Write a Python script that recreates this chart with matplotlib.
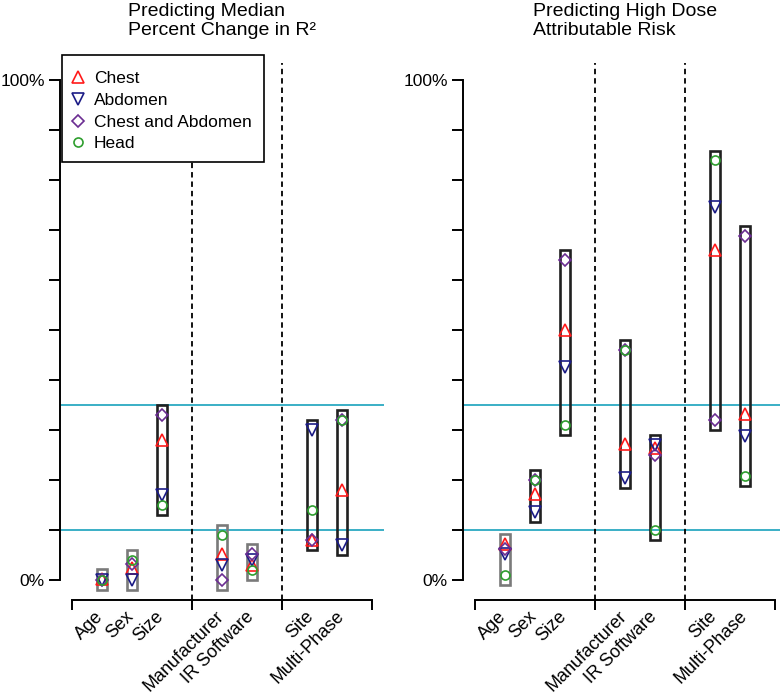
import matplotlib
matplotlib.use("Agg")
from matplotlib import pyplot as plt
from matplotlib.patches import Rectangle
from matplotlib.lines import Line2D

plt.rcParams['font.family'] = ['Liberation Sans', 'DejaVu Sans']

# predictors and their slot on the x axis
categories = ["Age", "Sex", "Size", "Manufacturer", "IR Software", "Site", "Multi-Phase"]
xpos = [1, 2, 3, 5, 6, 8, 9]
dividers = [4, 7]
ref_lines = [0.10, 0.35]

# left panel: median percent change in R^2
r2_chest = [0.003, 0.024, 0.28, 0.052, 0.03, 0.08, 0.18]
r2_abdomen = [0.0, 0.0, 0.17, 0.03, 0.04, 0.30, 0.07]
r2_chest_abd = [0.0, 0.033, 0.33, 0.0, 0.052, 0.08, 0.32]
r2_head = [0.0, 0.04, 0.15, 0.09, 0.02, 0.14, 0.32]
r2_gray = [True, True, False, True, True, False, False]

# right panel: high dose attributable risk
ar_chest = [0.072, 0.173, 0.50, 0.272, 0.264, 0.66, 0.332]
ar_abdomen = [0.052, 0.137, 0.427, 0.205, 0.27, 0.746, 0.288]
ar_chest_abd = [0.062, 0.20, 0.64, 0.46, 0.25, 0.32, 0.688]
ar_head = [0.01, 0.20, 0.31, 0.46, 0.10, 0.839, 0.209]
ar_gray = [True, False, False, False, False, False, False]

series_names = ["Chest", "Abdomen", "Chest and Abdomen", "Head"]
markers = ['^', 'v', 'D', 'o']
msizes = [8.5, 8.5, 6.2, 6.5]
colors = ['#FF1A1A', '#1C1C86', '#6B2D92', '#2E9E2E']
cyan = '#3AAFC6'

W, H = 780, 700
fig = plt.figure(figsize=(W / 100, H / 100), dpi=100)


def draw_panel(left_px, series, gray, title):
    ax = fig.add_axes([left_px / W, 100 / H, 324 / W, 540 / H])
    ax.set_xlim(-0.4, 10.4)
    ax.set_ylim(-0.04, 1.04)
    ax.patch.set_visible(False)
    for s in ['top', 'right']:
        ax.spines[s].set_visible(False)
    for s in ['left', 'bottom']:
        ax.spines[s].set_linewidth(1.4)
    ax.spines['left'].set_bounds(0, 1)
    ax.spines['bottom'].set_bounds(0, 10)
    ax.set_yticks([i / 10 for i in range(11)])
    ax.set_yticklabels(["0%"] + [""] * 9 + ["100%"])
    ax.set_xticks([0] + dividers + [10])
    ax.set_xticklabels([])
    ax.tick_params(axis='y', length=8, width=1.4, pad=3, labelsize=12.5)
    ax.tick_params(axis='x', length=7.5, width=1.4)

    for y in ref_lines:
        ax.axhline(y, color=cyan, lw=1.4, zorder=1)
    for x in dividers:
        ax.plot([x, x], [-0.04, 1.035], color='black', lw=1.3,
                dashes=(3, 2.2), zorder=1, clip_on=False)

    for i, x in enumerate(xpos):
        vals = [s[i] for s in series]
        lo, hi = min(vals) - 0.02, max(vals) + 0.02
        ec = '#7a7a7a' if gray[i] else '#202020'
        ax.add_patch(Rectangle((x - 0.18, lo), 0.36, hi - lo, fill=False,
                               ec=ec, lw=1.9, zorder=2))

    for s, m, ms, c in zip(series, markers, msizes, colors):
        ax.plot(xpos, s, ls='none', marker=m, ms=ms, mfc='none', mec=c,
                mew=1.2, zorder=3, clip_on=False)

    for x, lab in zip(xpos, categories):
        ax.text(x - 0.03, -0.068, lab, rotation=45, rotation_mode='anchor',
                ha='right', va='center', fontsize=13, clip_on=False)

    cx = (left_px + 162) / W
    fig.text(cx, 1 - 21 / H, title, ha='center', va='center',
             multialignment='left', fontsize=14, linespacing=1.15)
    return ax


ax1 = draw_panel(60, [r2_chest, r2_abdomen, r2_chest_abd, r2_head], r2_gray,
                 "Predicting Median\nPercent Change in R\u00b2")
ax2 = draw_panel(463, [ar_chest, ar_abdomen, ar_chest_abd, ar_head], ar_gray,
                 "Predicting High Dose\nAttributable Risk")

# legend box: white frame that hides the first divider
ax1.add_patch(Rectangle((62 / W, 1 - 162 / H), 202 / W, 107 / H,
                        transform=fig.transFigure, fc='white', ec='black',
                        lw=1.2, zorder=4, clip_on=False))
handles = [Line2D([], [], ls='none', marker=m, ms=ms, mfc='none', mec=c, mew=1.2)
           for m, ms, c in zip(markers, msizes, colors)]
leg = ax1.legend(handles, series_names, loc='upper left',
                 bbox_to_anchor=(69 / W, 1 - 71 / H), bbox_transform=fig.transFigure,
                 borderaxespad=0, borderpad=0, fontsize=12.5, frameon=False,
                 handlelength=1.0, handletextpad=0.44, labelspacing=0.38,
                 numpoints=1)
leg.set_zorder(5)

fig.savefig("out.png", dpi=100)
